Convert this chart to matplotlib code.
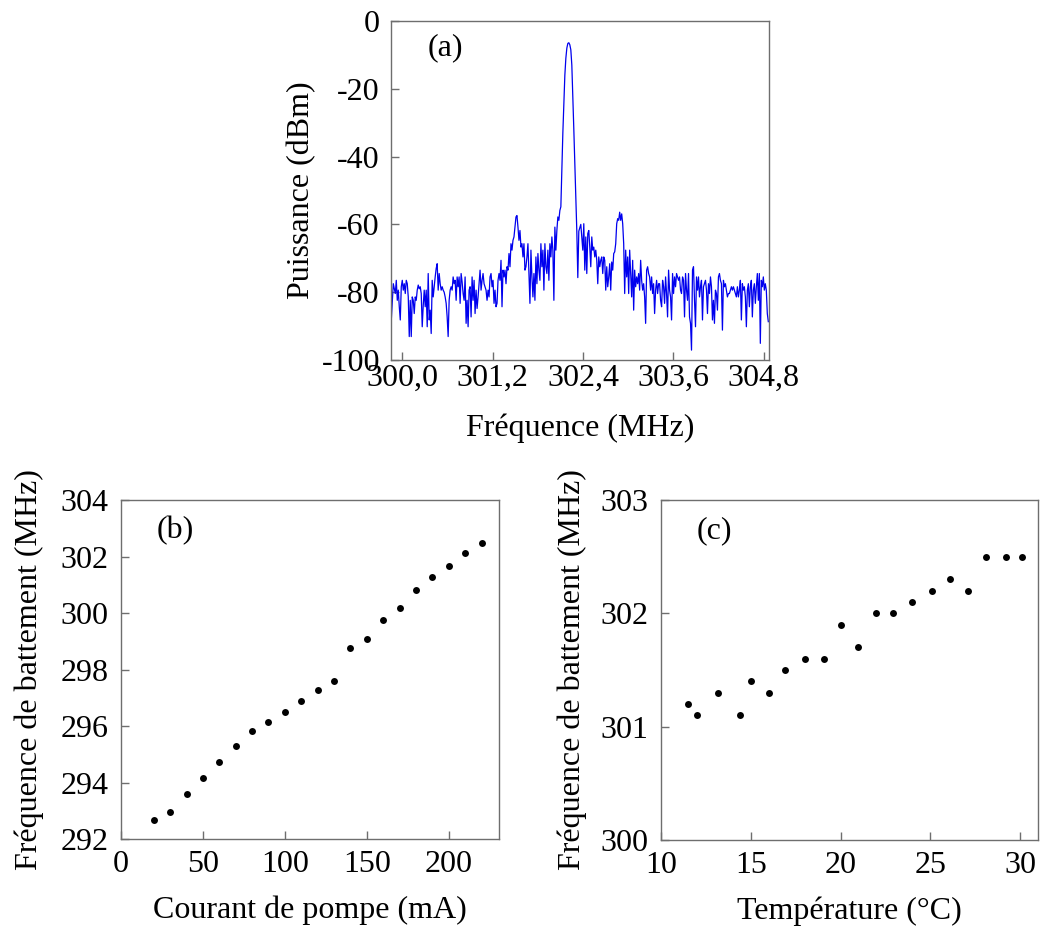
import numpy as np
import matplotlib
matplotlib.use("Agg")
import matplotlib.pyplot as plt

plt.rcParams["font.family"] = ["Liberation Serif", "DejaVu Serif"]
plt.rcParams["axes.unicode_minus"] = False

# (a) spectrum, sweep settings + trace (dBm), in four chunks
f_start = 299.854
f_stop = 304.861
p_seg1 = [-88.2, -83, -77.5, -79, -80.4, -76.5, -82.4, -79.4, -84.3, -88.2,
          -78.4, -76.5, -79.4, -77.5, -80.4, -76.5, -77.5, -81.4, -93.1, -82.4,
          -93.1, -81.4, -82.4, -86.3, -81.4, -82.4, -79.4, -77.9, -79, -78.4,
          -80.4, -90.2, -84, -79.4, -84.3, -79.4, -90.2, -74.5, -88.2, -85.3,
          -92.2, -76.5, -81.4, -78.4, -75.5, -73, -71.6, -79.4, -74.5, -77.5,
          -79.4, -78.4, -79.4, -80, -81.4, -83.3, -87.3, -93.1, -82.4, -79.4,
          -78.4, -79.4, -75.5, -77.5, -76.5, -82.4, -75.5, -78.4, -75.5, -83.3,
          -74.5, -77, -80.4, -82.4, -75.5, -89.2, -82.4, -90.2, -79.4, -78.4,
          -87.3, -75.5, -82.4, -76.5, -86.3, -79.4, -84.8, -81.4, -77.5, -73.5,
          -79.4, -76.5, -74.5, -77.5]
p_seg2 = [-78.4, -79.4, -82.4, -79.4, -81.4, -75.5, -74.5, -78.4, -76.5, -83.3,
          -79.4, -84.3, -83.3, -76.5, -74.5, -76.5, -70.6, -84.3, -73.5, -75.5,
          -73.5, -77.5, -72.5, -73.5, -68.6, -72.5, -65.7, -67.6, -64.7, -63.7,
          -60.8, -57.8, -57.4, -60.8, -64.7, -61.8, -66.7, -65.7, -69.6, -65.7,
          -73.5, -72.5, -69.6, -65.7, -74.5, -83.3, -67.6, -75.5, -81.4, -74.5,
          -82.4, -69.6, -77.5, -68.6, -73.5, -76.5, -65.7, -72.5, -67.6, -79.4,
          -65.7, -72.5, -74.5, -67.6, -76.5, -65.7, -69.6, -63.7, -67.6, -82.4,
          -60.8, -67.6, -61.8, -57.8, -58.8, -55.9, -54.8,
          -44, -33, -24, -16, -11, -8, -6.6, -6.4, -7, -8.5,
          -13, -22, -32, -42, -52, -62, -75.7, -62, -61, -60]
p_seg3 = [-63.7, -67.6, -59.8, -73.5, -63.7, -74.5, -62.7, -61.8, -66.7, -72.5,
          -63.7, -67.6, -66.7, -69.6, -67.6, -70.6, -77.5, -69.6, -72.5, -70.6,
          -69.6, -74.5, -69.6, -70.6, -79.4, -72.5, -78.4, -75.5, -71.6, -79.4,
          -71.1, -73.5, -68.6, -68.1, -65.7, -59.8, -58.3, -58.8, -56.4, -58.8,
          -56.9, -59.8, -65.7, -80.4, -67.6, -75.5, -69.6, -80.4, -67.6, -74.5,
          -81.4, -70.6, -85.3, -73.5, -78.4, -75.5, -77.5, -74.5, -79.4, -70.6,
          -76.5, -79.4, -77.5, -81.4, -89.2, -73.5, -72.5, -74.5, -75.5, -79.4,
          -75.5, -80.4, -77.5, -86.3, -79.4, -76.5, -80.4, -77.5, -77.5, -82.4,
          -84.3, -76.5, -78.4, -83.3, -75.5, -80.4, -87.3, -73.5, -79.4, -81.4,
          -88.2, -74.5, -80.4, -75.5, -78.4, -74.5, -75.5]
p_seg4 = [-76.5, -75.5, -79.4, -80.4, -75.5, -76.5, -87.3, -74.5, -79.4, -82.4,
          -74.5, -87.3, -89.2, -97.1, -73.5, -72.5, -82.4, -90.2, -75.5, -79.4,
          -75.5, -81.4, -78.4, -76.5, -88.2, -78.4, -77.5, -76.5, -79.4, -86.3,
          -77.5, -80.4, -75.5, -78.4, -88.2, -82.4, -89.2, -79.4, -80.4, -85.3,
          -75.5, -74.5, -76.5, -77.5, -91.2, -76.5, -78.4, -77.5, -79.4, -81.4,
          -80.4, -80.4, -79.4, -78.4, -79.4, -78.4, -79.4, -80.4, -81.4, -78.4,
          -81.4, -79.4, -76.5, -88.2, -77.5, -79.4, -78.4, -81.4, -90.2, -79.4,
          -77.5, -84.3, -78.4, -76.5, -87.3, -79.4, -77.5, -83.3, -78.4, -74.5,
          -82.4, -74.5, -95.1, -76.5, -78.4, -75.5, -79.4, -77.5, -79.4, -86.3,
          -88.7]
freq_ticks = [300.0, 301.2, 302.4, 303.6, 304.8]
power_ticks = [0, -20, -40, -60, -80, -100]

# (b) beat frequency vs pump current
courant = [20, 30, 40, 50, 60, 70, 80, 90, 100, 110, 120, 130, 140, 150,
           160, 170, 180, 190, 200, 210, 220]
batt_b = [292.66, 292.96, 293.58, 294.16, 294.71, 295.28, 295.81, 296.13,
          296.48, 296.88, 297.26, 297.58, 298.75, 299.08, 299.75, 300.19,
          300.81, 301.26, 301.66, 302.11, 302.49]

# (c) beat frequency vs temperature
temp = [11.5, 12.0, 13.2, 14.4, 15.0, 16.0, 16.9, 18.0, 19.1, 20.0,
        21.0, 22.0, 22.9, 24.0, 25.1, 26.1, 27.1, 28.1, 29.2, 30.1]
batt_c = [301.2, 301.1, 301.3, 301.1, 301.4, 301.3, 301.5, 301.6, 301.6, 301.9,
          301.7, 302.0, 302.0, 302.1, 302.2, 302.3, 302.2, 302.5, 302.5, 302.5]

spine_col = "#6e6e6e"
FS = 23


def style_axes(ax):
    for s in ax.spines.values():
        s.set_color(spine_col)
        s.set_linewidth(1.0)
    ax.tick_params(direction="in", length=6, width=1.0, color=spine_col,
                   labelsize=FS, top=False, right=False)


fig = plt.figure(figsize=(10.41, 9.27), dpi=100)

# panel (a)
ax1 = fig.add_axes([0.3756, 0.6117, 0.3631, 0.3656])
power = np.array(p_seg1 + p_seg2 + p_seg3 + p_seg4)
freq = np.linspace(f_start, f_stop, len(power))
ax1.plot(freq, power, color="#0000ee", lw=0.9)
ax1.set_xlim(299.85, 304.87)
ax1.set_ylim(-100, 0)
ax1.set_xticks(freq_ticks)
ax1.set_xticklabels([f"{v:.1f}".replace(".", ",") for v in freq_ticks])
ax1.set_yticks(power_ticks)
style_axes(ax1)
ax1.tick_params(axis="x", pad=3)
ax1.tick_params(axis="y", pad=8)
ax1.set_xlabel("Fréquence (MHz)", fontsize=FS, labelpad=15)
ax1.set_ylabel("Puissance (dBm)", fontsize=FS, labelpad=4)
ax1.text(0.098, 0.92, "(a)", transform=ax1.transAxes, fontsize=FS, va="center")

# panel (b)
ax2 = fig.add_axes([0.1162, 0.0949, 0.3631, 0.3657])
ax2.plot(courant, batt_b, "o", color="black", ms=5, mec="none")
ax2.set_xlim(0, 230.6)
ax2.set_ylim(292, 304)
ax2.set_xticks([0, 50, 100, 150, 200])
ax2.set_yticks([292, 294, 296, 298, 300, 302, 304])
style_axes(ax2)
ax2.tick_params(axis="x", pad=8)
ax2.tick_params(axis="y", pad=9)
ax2.set_xlabel("Courant de pompe (mA)", fontsize=FS, labelpad=12)
ax2.set_ylabel("Fréquence de battement (MHz)", fontsize=FS, labelpad=12)
ax2.text(0.095, 0.91, "(b)", transform=ax2.transAxes, fontsize=FS, va="center")

# panel (c)
ax3 = fig.add_axes([0.635, 0.0939, 0.3621, 0.3667])
ax3.plot(temp, batt_c, "o", color="black", ms=5, mec="none")
ax3.set_xlim(10, 31)
ax3.set_ylim(300, 303)
ax3.set_xticks([10, 15, 20, 25, 30])
ax3.set_yticks([300, 301, 302, 303])
style_axes(ax3)
ax3.tick_params(axis="x", pad=8)
ax3.tick_params(axis="y", pad=9)
ax3.set_xlabel("Température (°C)", fontsize=FS, labelpad=12)
ax3.set_ylabel("Fréquence de battement (MHz)", fontsize=FS, labelpad=10)
ax3.text(0.095, 0.91, "(c)", transform=ax3.transAxes, fontsize=FS, va="center")

fig.savefig("out.png", dpi=100)
